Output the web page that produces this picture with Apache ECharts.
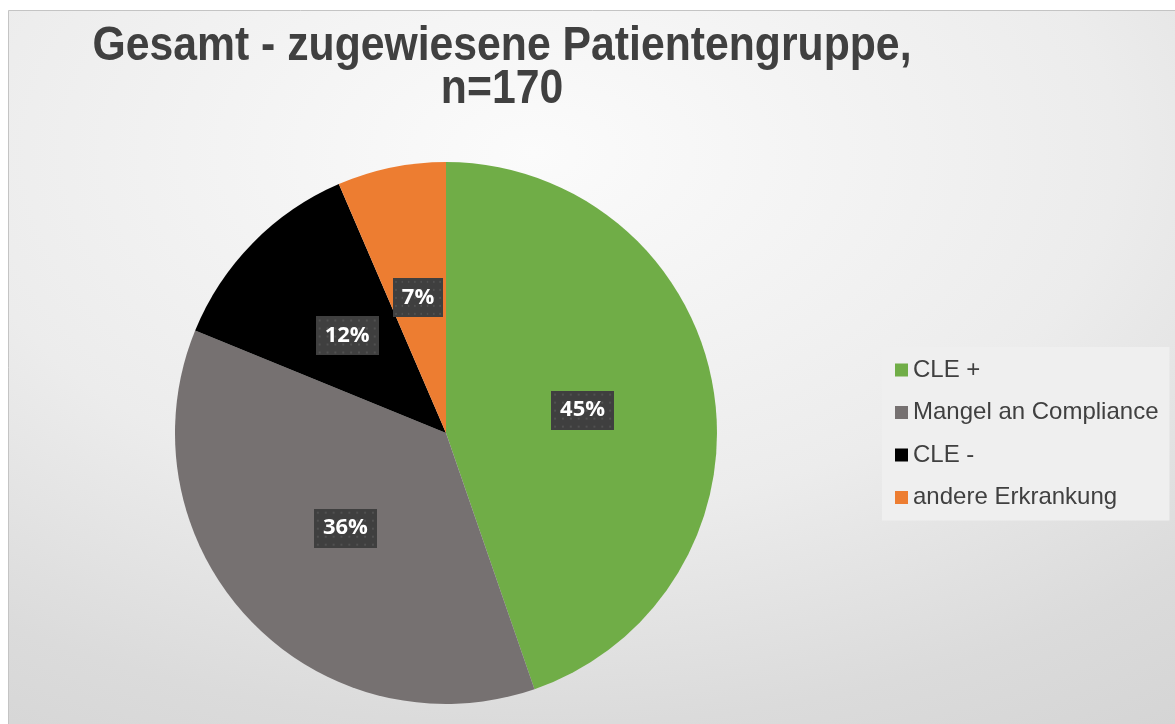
<!DOCTYPE html>
<html>
<head>
<meta charset="utf-8">
<script src="https://cdn.jsdelivr.net/npm/echarts@6/dist/echarts.min.js"></script>
<style>
  html, body { margin: 0; padding: 0; background: #fff; }
  #chart { width: 1175px; height: 724px; }
</style>
</head>
<body>
<div id="chart"></div>
<script>
const categories = ["CLE +", "Mangel an Compliance", "CLE -", "andere Erkrankung"];
const counts = [76, 62, 21, 11];
const percentLabels = ["45%", "36%", "12%", "7%"];
const colors = ["#70ad47", "#767171", "#000000", "#ed7d31"];
const titleText = "Gesamt - zugewiesene Patientengruppe,\nn=170";

// dotted dark label background, like the original
function makePattern(w, h) {
  const c = document.createElement("canvas");
  c.width = w; c.height = h;
  const ctx = c.getContext("2d");
  ctx.fillStyle = "#3f3f3f";
  ctx.fillRect(0, 0, w, h);
  ctx.fillStyle = "#515151";
  for (let y = 3; y < h; y += 8) {
    for (let x = 3; x < w; x += 8) {
      ctx.fillRect(x, y, 2, 2);
    }
  }
  return c;
}

const chart = echarts.init(document.getElementById("chart"));

const option = {
  animation: false,
  graphic: [
    {
      // square rect squashed vertically -> elliptical radial gradient like excel
      type: "rect",
      z: -10,
      silent: true,
      x: 8.5,
      y: 10.5,
      scaleY: 714 / 1167,
      shape: { x: 0, y: 0, width: 1167, height: 1167 },
      style: {
        fill: {
          type: "radial", x: 0.45, y: 0.2, r: 1.0,
          colorStops: [
            { offset: 0, color: "#fbfbfb" },
            { offset: 0.5, color: "#ececec" },
            { offset: 0.8, color: "#dbdbdb" },
            { offset: 1, color: "#d4d4d4" }
          ]
        }
      }
    },
    {
      type: "rect",
      z: -9,
      silent: true,
      shape: { x: 8.5, y: 10.5, width: 1200, height: 800 },
      style: { fill: null, stroke: "#c4c4c4", lineWidth: 1 }
    },
    {
      // title is a bit condensed in the original, so scale it horizontally
      type: "text",
      x: 502,
      y: 25,
      scaleX: 0.89,
      silent: true,
      style: {
        text: titleText,
        align: "center",
        verticalAlign: "top",
        fontFamily: "Liberation Sans",
        fontWeight: "bold",
        fontSize: 48,
        lineHeight: 43,
        fill: "#404040"
      }
    }
  ],
  legend: {
    orient: "vertical",
    left: 882,
    top: 347,
    padding: [11, 11, 11, 13],
    backgroundColor: "#efefef",
    icon: "rect",
    itemWidth: 13,
    itemHeight: 13,
    itemGap: 18.5,
    textStyle: {
      fontFamily: "Liberation Sans",
      fontSize: 24,
      lineHeight: 24,
      color: "#404040"
    },
    data: categories
  },
  series: [
    {
      type: "pie",
      center: [446, 433],
      radius: 271,
      startAngle: 90,
      clockwise: true,
      color: colors,
      emphasis: { disabled: true },
      labelLine: { show: false },
      label: {
        show: true,
        position: "inside",
        formatter: p => percentLabels[p.dataIndex],
        fontFamily: "Open Sans",
        fontWeight: "bold",
        fontSize: 22,
        lineHeight: 21,
        color: "#ffffff",
        padding: [9, 9, 9, 9],
        backgroundColor: { image: makePattern(64, 39) },
        shadowColor: "rgba(0,0,0,0.45)",
        shadowBlur: 4,
        shadowOffsetX: 3,
        shadowOffsetY: 3
      },
      data: categories.map((name, i) => ({ name, value: counts[i] }))
    }
  ]
};

chart.setOption(option);
</script>
</body>
</html>
